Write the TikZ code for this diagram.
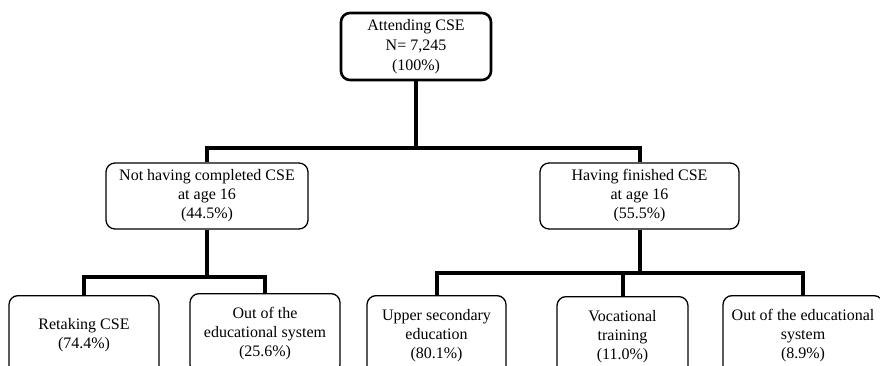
\documentclass[tikz,border=0pt]{standalone}
\usepackage{fontspec}
\setmainfont{Liberation Serif}
\usetikzlibrary{calc}
\tikzstyle{box}=[draw, rounded corners=9pt, align=center, line width=1.3pt, inner sep=0pt, font=\fontsize{16}{19}\selectfont]
\tikzstyle{link}=[line width=4pt]

\begin{document}
\begin{tikzpicture}[x=1pt,y=-1pt]
		\useasboundingbox (0,0) rectangle (880,366);
		\clip (0,0) rectangle (880,366);
		\node(root)[box, line width=2.6pt, minimum width=150pt, minimum height=67pt, font=\fontsize{16}{20}\selectfont] at (416,46.5) {Attending CSE\\N= 7,245\\(100\%)};
		\node(notdone)[box, minimum width=202pt, minimum height=66pt] at (207,196) {Not having completed CSE\\at age 16\\(44.5\%)};
		\node(done)[box, minimum width=199pt, minimum height=66pt] at (639.5,196) {Having finished CSE\\at age 16\\(55.5\%)};
		\node(retake)[box, anchor=north, minimum width=150pt, minimum height=80pt] at (84,295) {Retaking CSE\\(74.4\%)};
		\node(outleft)[box, anchor=north, minimum width=150pt, minimum height=80pt] at (265,293) {Out of the\\educational system\\(25.6\%)};
		\node(upper)[box, anchor=north, minimum width=139pt, minimum height=80pt] at (436.5,295) {Upper secondary\\education\\(80.1\%)};
		\node(voc)[box, anchor=north, minimum width=131pt, minimum height=80pt] at (622.5,296) {Vocational\\training\\(11.0\%)};
		\node(outright)[box, anchor=north, minimum width=160pt, minimum height=80pt] at (803,295) {Out of the educational\\system\\(8.9\%)};
		% split points
		\coordinate(split0) at (416,148);
		\coordinate(splitL) at (207,277);
		\coordinate(splitR) at (639.5,273);
		\draw[link] (root.south) -- (split0);
		\draw[link] (notdone.north) |- (split0) -| (done.north);
		\draw[link] (notdone.south) -- (splitL);
		\draw[link] (retake.north) |- (splitL) -| (outleft.north);
		\draw[link] (done.south) -- (splitR);
		\draw[link] (upper.north) |- (splitR) -| (outright.north);
		\draw[link] (voc.north) -- (voc.north |- splitR);
		\end{tikzpicture}
\end{document}
